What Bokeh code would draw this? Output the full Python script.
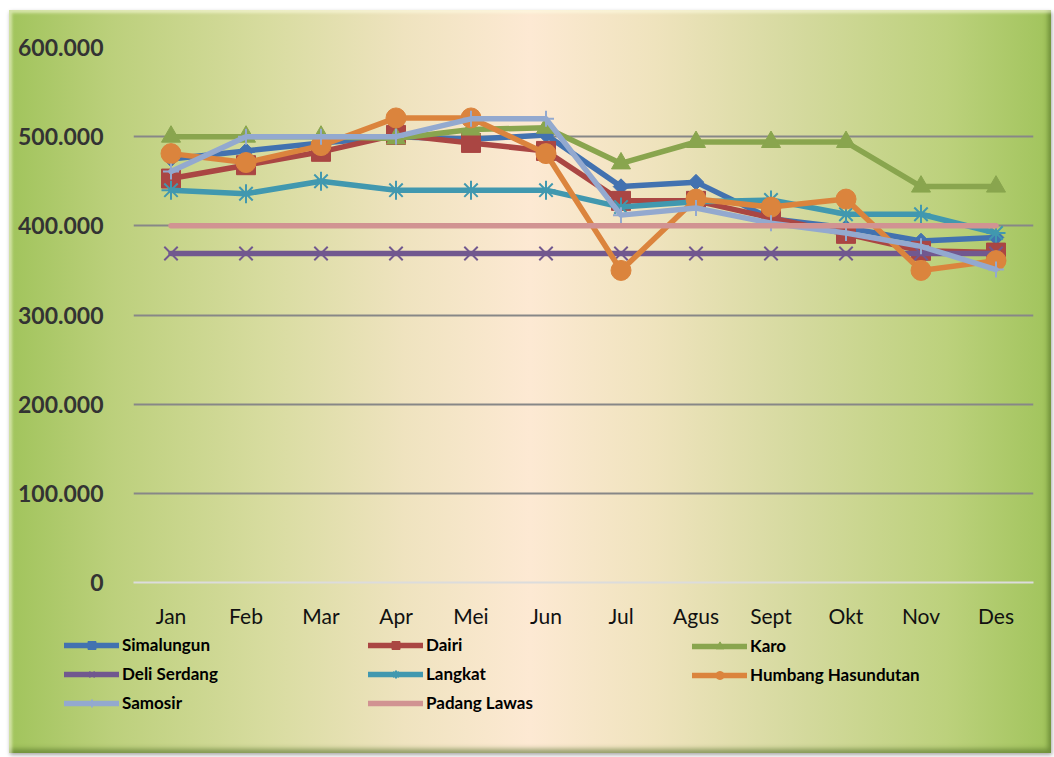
from bokeh.plotting import figure
from bokeh.models import Range1d, FactorRange, FixedTicker, Legend, LegendItem
from bokeh.layouts import column
from bokeh.embed import file_html
from bokeh.resources import INLINE
import numpy as np

months = ["Jan", "Feb", "Mar", "Apr", "Mei", "Jun", "Jul", "Agus", "Sept", "Okt", "Nov", "Des"]

simalungun = [475000, 484000, 493000, 500000, 497000, 502000, 444000, 449000, 408000, 398000, 383000, 387000]
dairi = [453000, 468000, 483000, 502000, 493000, 484000, 428000, 428000, 409000, 391000, 372000, 370000]
karo = [500000, 500000, 500000, 498000, 508000, 510000, 470000, 494000, 494000, 494000, 444000, 444000]
deli_serdang = [369000, 369000, 369000, 369000, 369000, 369000, 369000, 369000, 369000, 369000, 369000, 369000]
langkat = [440000, 436000, 450000, 440000, 440000, 440000, 421000, 427000, 429000, 413000, 413000, 392000]
humbang = [481000, 471000, 490000, 521000, 521000, 481000, 350000, 430000, 421000, 430000, 350000, 361000]
samosir = [461000, 500000, 500000, 500000, 520000, 520000, 412000, 420000, 403000, 392000, 377000, 351000]
padang_lawas = [400000, 400000, 400000, 400000, 400000, 400000, 400000, 400000, 400000, 400000, 400000, 400000]

ytick_values = [0, 100000, 200000, 300000, 400000, 500000, 600000]
ytick_labels = ["0", "100.000", "200.000", "300.000", "400.000", "500.000", "600.000"]

W = 1042
H_MAIN = 620
H_LEG = 123

p = figure(
    width=W, height=H_MAIN,
    x_range=FactorRange(factors=months, range_padding=0),
    y_range=Range1d(0, 600000),
    output_backend="svg", toolbar_location=None,
    min_border_left=124, min_border_right=18, min_border_top=37, min_border_bottom=48,
)
p.background_fill_alpha = 0
p.border_fill_alpha = 0
p.outline_line_color = None

# axes
p.yaxis.ticker = FixedTicker(ticks=ytick_values)
p.yaxis.major_label_overrides = {v: l for v, l in zip(ytick_values, ytick_labels)}
p.yaxis.axis_line_color = None
p.yaxis.major_tick_line_color = None
p.yaxis.minor_tick_line_color = None
p.yaxis.major_label_standoff = 24
p.yaxis.major_label_text_font = "Lato"
p.yaxis.major_label_text_font_style = "bold"
p.yaxis.major_label_text_font_size = "23px"
p.yaxis.major_label_text_color = "#333333"

p.xaxis.axis_line_color = "#dcdcdc"
p.xaxis.axis_line_width = 2
p.xaxis.major_tick_line_color = None
p.xaxis.minor_tick_line_color = None
p.xaxis.major_label_standoff = 14
p.xaxis.major_label_text_font = "Lato"
p.xaxis.major_label_text_font_size = "21px"
p.xaxis.major_label_text_color = "#111111"

p.xgrid.visible = False
p.ygrid.ticker = FixedTicker(ticks=ytick_values[1:])
p.ygrid.grid_line_color = "#878787"
p.ygrid.grid_line_width = 2

# legend figure (below the chart, sharing the same background)
lf = figure(
    width=W, height=H_LEG,
    x_range=FactorRange(factors=months, range_padding=0),
    y_range=Range1d(0, 1),
    output_backend="svg", toolbar_location=None,
    min_border_left=0, min_border_right=0, min_border_top=0, min_border_bottom=0,
)
lf.axis.visible = False
lf.grid.visible = False
lf.background_fill_alpha = 0
lf.border_fill_alpha = 0
lf.outline_line_color = None

series = [
    # name, data, color, marker, size, angle, filled
    ("Simalungun", simalungun, "#4272B0", "square", 11, np.pi / 4, True),
    ("Dairi", dairi, "#AA4643", "square", 19, 0, True),
    ("Karo", karo, "#89A54E", "triangle", 19, 0, True),
    ("Deli Serdang", deli_serdang, "#71588F", "x", 19, 0, False),
    ("Langkat", langkat, "#4198AF", "asterisk", 19, 0, False),
    ("Humbang Hasundutan", humbang, "#DB843D", "circle", 20, 0, True),
    ("Samosir", samosir, "#93A9CF", "cross", 16, 0, False),
    ("Padang Lawas", padang_lawas, "#D19392", None, 0, 0, True),
]


def draw(fig, data, color, marker, size, angle, filled):
    rs = [fig.line(months, data, line_color=color, line_width=5.5,
                   line_join="round", line_cap="round")]
    if marker is not None:
        if filled:
            rs.append(fig.scatter(months, data, marker=marker, size=size, angle=angle,
                                  fill_color=color, line_color=color, line_width=1))
        else:
            rs.append(fig.scatter(months, data, marker=marker, size=size,
                                  line_color=color, line_width=2))
    return rs


items = {}
for name, data, color, marker, size, angle, filled in series:
    draw(p, data, color, marker, size, angle, filled)
    # same series in the legend figure (outside its visible range) to feed the legend glyphs
    items[name] = LegendItem(label=name, renderers=draw(lf, data, color, marker, size, angle, filled))

columns = [
    (["Simalungun", "Deli Serdang", "Samosir"], 55),
    (["Dairi", "Langkat", "Padang Lawas"], 359),
    (["Karo", "Humbang Hasundutan"], 683),
]
for names, x0 in columns:
    n = len(names)
    leg_h = n * 20 + (n - 1) * 8
    lg = Legend(
        items=[items[k] for k in names], location=(x0, H_LEG - 7 - leg_h),
        orientation="vertical",
        padding=0, margin=0, spacing=8, glyph_width=55, glyph_height=20,
        label_height=20, label_standoff=3,
        background_fill_alpha=0, border_line_alpha=0,
        label_text_font="Lato", label_text_font_style="bold",
        label_text_font_size="17px", label_text_color="#000000",
    )
    lf.add_layout(lg, "center")

layout = column(
    p, column(lf, spacing=0), spacing=0,
    styles={
        "margin-left": "9px",
        "margin-top": "10px",
        "background-image": "linear-gradient(to right, #a1c45c 0%, #bcd07c 10%, #d8dca0 25%, #efe3bf 38%, #fde9d3 50%, #efe3bd 62%, #d6daa0 75%, #bcd17c 90%, #a1c45c 100%)",
        "box-shadow": "inset 3px 3px 3px rgba(255,255,230,0.55), inset -3px -4px 5px rgba(70,100,30,0.55), 1px 2px 4px rgba(0,0,0,0.35)",
    },
)

open("out.html", "w").write(file_html(layout, INLINE))
